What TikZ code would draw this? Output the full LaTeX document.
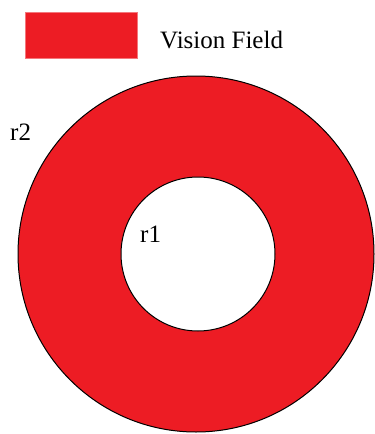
\documentclass[tikz,border=0pt]{standalone}
\usepackage{fontspec}
\setmainfont{Liberation Serif}
\usepackage{xcolor}
\usepackage{tikz}
\usetikzlibrary{positioning}
\definecolor{fieldred}{HTML}{ED1C24}

\begin{document}
\begin{tikzpicture}[x=1pt, y=-1pt,
    every node/.style={font=\fontsize{25}{30}\selectfont, inner sep=0pt},
    ring/.style={draw=black, line width=1pt},
    swatch/.style={rectangle, fill=fieldred, draw=fieldred!60, minimum width=112pt, minimum height=46pt}]
\useasboundingbox (0,0) rectangle (375,434);
% legend
\node[swatch] (key) at (81,35) {};
\node[anchor=base west] (keytext) at (160,48) {Vision Field};
% field
\coordinate (c) at (196,254);
\draw[ring, fill=fieldred] (c) circle (178);
\draw[ring, fill=white] (198,254) circle (77);
\node[anchor=base west] (rtwo) at (10,140) {r2};
\node[anchor=base west] (rone) at (140,242) {r1};
\end{tikzpicture}
\end{document}
